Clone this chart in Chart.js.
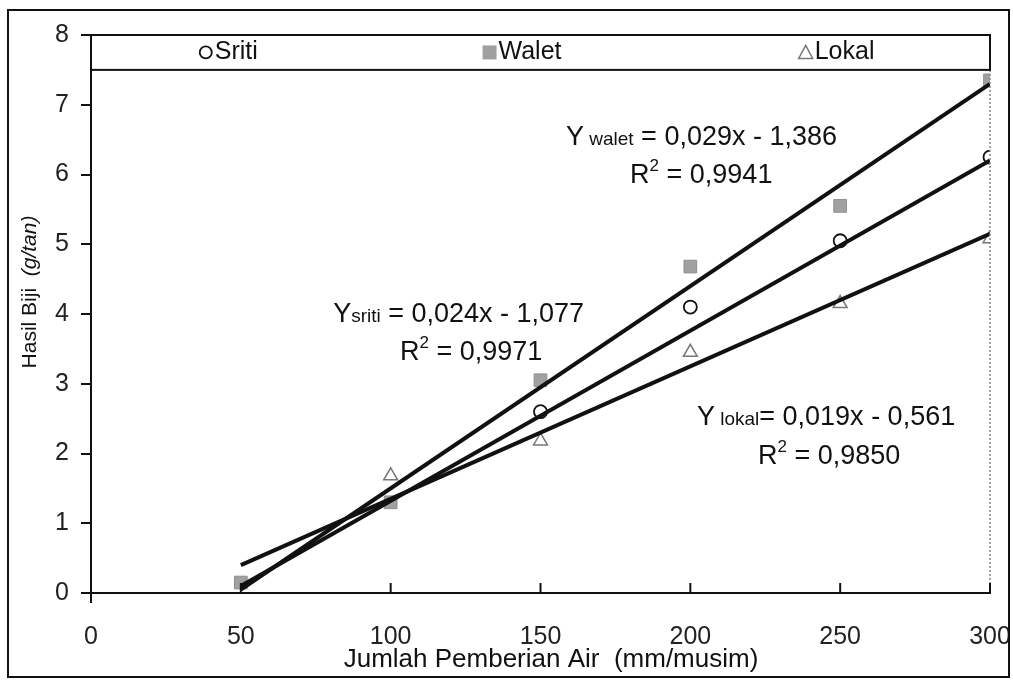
<!DOCTYPE html>
<html lang="id">
  <head>
    <meta charset="UTF-8" />
    <title>Hasil Biji vs Jumlah Pemberian Air</title>
    <script src="https://cdn.jsdelivr.net/npm/chart.js"></script>
    <style>
      body {
        margin: 0;
        background: #fff;
      }
      #wrap {
        width: 1013px;
        height: 680px;
      }
    </style>
  </head>
  <body>
    <div id="wrap"><canvas id="plot" width="1013" height="680"></canvas></div>
    <script>
      const FONT = "'Liberation Sans', Arial, sans-serif";

      // x categories (mm/musim)
      const airLevels = [50, 100, 150, 200, 250, 300];
      const sritiVals = [null, null, 2.6, 4.1, 5.05, 6.25];
      const waletVals = [0.15, 1.3, 3.05, 4.68, 5.55, 7.35];
      const lokalVals = [null, 1.68, 2.18, 3.45, 4.15, 5.08];

      // trend line end points
      const trendX = [50, 300];
      const sritiTrend = [0.1, 6.2];
      const waletTrend = [0.05, 7.3];
      const lokalTrend = [0.4, 5.15];

      const xTicks = [0, 50, 100, 150, 200, 250, 300];
      const yTicks = [0, 1, 2, 3, 4, 5, 6, 7, 8];

      // equation labels: [subscript name, rest of equation, r2]
      const eqSriti = ["sriti", " = 0,024x - 1,077", " = 0,9971"];
      const eqWalet = [" walet", " = 0,029x - 1,386", " = 0,9941"];
      const eqLokal = [" lokal", "= 0,019x - 0,561", " = 0,9850"];

      const pts = (ys) =>
        airLevels.map((x, i) => ({ x, y: ys[i] })).filter((p) => p.y !== null);
      const line = (ys) => trendX.map((x, i) => ({ x, y: ys[i] }));

      function trendSet(ys) {
        return {
          type: "line",
          data: line(ys),
          borderColor: "#111",
          borderWidth: 4,
          pointRadius: 0,
          fill: false,
          order: 0,
        };
      }

      // legend box, equations, axis decorations
      const decor = {
        id: "decor",
        afterDraw(chart) {
          const ctx = chart.ctx;
          const xs = chart.scales.x;
          const ys = chart.scales.y;
          const X = (v) => xs.getPixelForValue(v);
          const Y = (v) => ys.getPixelForValue(v);
          ctx.save();

          // dotted line at x = 300
          ctx.strokeStyle = "#888";
          ctx.lineWidth = 1.5;
          ctx.setLineDash([2, 2]);
          ctx.beginPath();
          ctx.moveTo(X(300), Y(7.5));
          ctx.lineTo(X(300), Y(0));
          ctx.stroke();
          ctx.setLineDash([]);

          // x ticks pointing up
          ctx.strokeStyle = "#111";
          ctx.lineWidth = 2;
          xTicks.forEach((t) => {
            ctx.beginPath();
            if (t === 0) {
              ctx.moveTo(X(t), Y(0));
              ctx.lineTo(X(t), Y(0) + 10);
            } else {
              ctx.moveTo(X(t), Y(0));
              ctx.lineTo(X(t), Y(0) - 10);
            }
            ctx.stroke();
          });

          // legend box
          ctx.lineWidth = 2;
          ctx.strokeRect(X(0), Y(8), X(300) - X(0), Y(7.5) - Y(8));
          const ly = Y(7.75);
          ctx.font = "25px " + FONT;
          ctx.fillStyle = "#111";
          ctx.textBaseline = "middle";
          ctx.textAlign = "left";
          // circle
          ctx.lineWidth = 1.8;
          ctx.beginPath();
          ctx.arc(X(38.3), ly, 6, 0, Math.PI * 2);
          ctx.stroke();
          ctx.fillText("Sriti", X(41.3), ly);
          // square
          ctx.fillStyle = "#a0a0a0";
          ctx.fillRect(X(133) - 7, ly - 7, 14, 14);
          ctx.fillStyle = "#111";
          ctx.fillText("Walet", X(136), ly);
          // triangle
          ctx.strokeStyle = "#777";
          ctx.lineWidth = 1.5;
          ctx.beginPath();
          ctx.moveTo(X(238.5), ly - 7);
          ctx.lineTo(X(238.5) + 7, ly + 6);
          ctx.lineTo(X(238.5) - 7, ly + 6);
          ctx.closePath();
          ctx.stroke();
          ctx.fillText("Lokal", X(241.5), ly);

          // equations
          ctx.textBaseline = "alphabetic";
          function eq(e, x1, y1, x2, y2) {
            let px = X(x1);
            const py = Y(y1);
            ctx.fillStyle = "#111";
            ctx.font = "27px " + FONT;
            ctx.fillText("Y", px, py);
            px += ctx.measureText("Y").width;
            ctx.font = "19px " + FONT;
            ctx.fillText(e[0], px, py);
            px += ctx.measureText(e[0]).width;
            ctx.font = "27px " + FONT;
            ctx.fillText(e[1], px, py);
            let rx = X(x2);
            const ry = Y(y2);
            ctx.fillText("R", rx, ry);
            rx += ctx.measureText("R").width;
            ctx.font = "17px " + FONT;
            ctx.fillText("2", rx, ry - 12);
            rx += ctx.measureText("2").width;
            ctx.font = "27px " + FONT;
            ctx.fillText(e[2], rx, ry);
          }
          eq(eqWalet, 158.5, 6.42, 179.9, 5.88);
          eq(eqSriti, 80.8, 3.885, 103.1, 3.34);
          eq(eqLokal, 202.2, 2.41, 222.6, 1.85);

          // axis titles
          ctx.font = "26px " + FONT;
          ctx.textAlign = "center";
          ctx.textBaseline = "middle";
          ctx.fillText("Jumlah Pemberian Air  (mm/musim)", 551, 660);
          ctx.translate(30, 292);
          ctx.rotate(-Math.PI / 2);
          const a = "Hasil Biji  ";
          ctx.font = "italic 21px " + FONT;
          const b = "(g/tan)";
          const wb = ctx.measureText(b).width;
          ctx.font = "21px " + FONT;
          const wa = ctx.measureText(a).width;
          ctx.textAlign = "left";
          ctx.fillText(a, -(wa + wb) / 2, 0);
          ctx.font = "italic 21px " + FONT;
          ctx.fillText(b, -(wa + wb) / 2 + wa, 0);
          ctx.setTransform(1, 0, 0, 1, 0, 0);

          // outer frame
          ctx.strokeStyle = "#111";
          ctx.lineWidth = 2;
          ctx.strokeRect(8, 10, 1001, 667);
          ctx.restore();
        },
      };

      new Chart(document.getElementById("plot"), {
        type: "scatter",
        data: {
          datasets: [
            trendSet(waletTrend),
            trendSet(sritiTrend),
            trendSet(lokalTrend),
            {
              label: "Sriti",
              data: pts(sritiVals),
              pointStyle: "circle",
              pointRadius: 6.5,
              backgroundColor: "#fff",
              borderColor: "#111",
              borderWidth: 1.8,
              order: 1,
            },
            {
              label: "Walet",
              data: pts(waletVals),
              pointStyle: "rect",
              pointRadius: 9,
              backgroundColor: "#a0a0a0",
              borderColor: "#909090",
              borderWidth: 1,
              order: 1,
            },
            {
              label: "Lokal",
              data: pts(lokalVals),
              pointStyle: "triangle",
              pointRadius: 8,
              backgroundColor: "#fff",
              borderColor: "#777",
              borderWidth: 1.5,
              order: 1,
            },
          ],
        },
        options: {
          responsive: false,
          animation: false,
          layout: { padding: { left: 0, top: 35, right: 23, bottom: 0 } },
          plugins: {
            legend: { display: false },
            tooltip: { enabled: false },
          },
          scales: {
            x: {
              type: "linear",
              min: 0,
              max: 300,
              afterBuildTicks: (s) => {
                s.ticks = xTicks.map((v) => ({ value: v }));
              },
              afterFit: (s) => {
                s.height = 87;
                s.paddingLeft = 0;
                s.paddingRight = 0;
              },
              ticks: {
                color: "#222",
                font: { family: FONT, size: 25 },
                padding: 21,
                maxRotation: 0,
              },
              grid: { display: false },
              border: { display: true, color: "#111", width: 2 },
            },
            y: {
              min: 0,
              max: 8,
              afterBuildTicks: (s) => {
                s.ticks = yTicks.map((v) => ({ value: v }));
              },
              afterFit: (s) => {
                s.width = 91;
                s.paddingTop = 0;
                s.paddingBottom = 0;
              },
              ticks: {
                color: "#222",
                font: { family: FONT, size: 25 },
                padding: 12,
              },
              grid: {
                drawOnChartArea: false,
                drawTicks: true,
                tickLength: 10,
                color: "#111",
                lineWidth: 2,
              },
              border: { display: true, color: "#111", width: 2 },
            },
          },
        },
        plugins: [decor],
      });
    </script>
  </body>
</html>
